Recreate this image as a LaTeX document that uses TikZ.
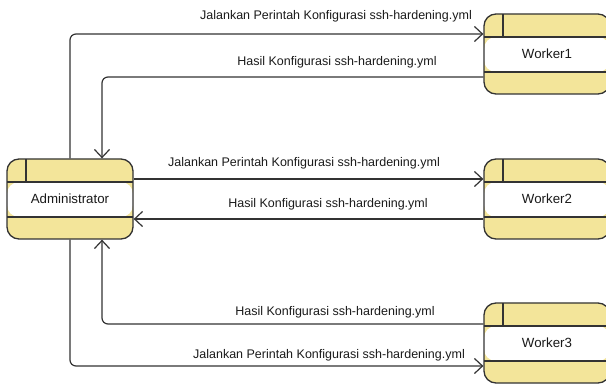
\documentclass[tikz,border=0pt]{standalone}
\usepackage{fontspec}
\setmainfont{Liberation Sans}
\usetikzlibrary{arrows.meta,calc}
\definecolor{boxfill}{HTML}{F3E59A}
\definecolor{strokec}{HTML}{333333}
\definecolor{txtc}{HTML}{1A1A1A}
\tikzset{
  procbox/.style={draw=strokec, line width=1.3pt, fill=boxfill, rounded corners=12pt,
    minimum width=126pt, minimum height=80pt, inner sep=0pt, text=txtc,
    font=\fontsize{13.3}{15}\selectfont,
    path picture={
      \fill[white] ([yshift=-23pt]path picture bounding box.north west) rectangle ([yshift=22pt]path picture bounding box.south east);
      \draw[strokec, line width=1.3pt] ([yshift=-23pt]path picture bounding box.north west) -- ([yshift=-23pt]path picture bounding box.north east);
      \draw[strokec, line width=1.3pt] ([yshift=22pt]path picture bounding box.south west) -- ([yshift=22pt]path picture bounding box.south east);
      \draw[strokec, line width=1.3pt] ([xshift=19pt]path picture bounding box.north west) -- ([xshift=19pt,yshift=-23pt]path picture bounding box.north west);
    }},
  conn/.style={draw=strokec, line width=1.2pt, rounded corners=6pt,
    -{Straight Barb[length=8pt,width=15pt,line width=1.2pt]}},
  lbl/.style={anchor=base, text=txtc, font=\fontsize{12.5}{14}\selectfont, inner sep=0pt}
}
\begin{document}
\begin{tikzpicture}[x=1pt,y=-1pt]
\useasboundingbox (0,0) rectangle (606,385);
\clip (0,0) rectangle (606,385);
\node[procbox] (admin) at (70,199) {Administrator};
\node[procbox] (w1) at (547,54) {Worker1};
\node[procbox] (w2) at (547,199) {Worker2};
\node[procbox] (w3) at (547,343) {Worker3};
% coordinates for bends
\coordinate (a1) at (70,34);
\coordinate (a2) at (102,77);
\coordinate (a5) at (102,324);
\coordinate (a6) at (70,366);
% top pair
\draw[conn] (admin.north) -- (a1) -- (w1.west |- a1);
\draw[conn] (w1.west |- a2) -- (a2) -- (a2 |- admin.north);
% middle pair
\draw[conn] (admin.east |- 0,179) -- (w2.west |- 0,179);
\draw[conn] (w2.west |- 0,219) -- (admin.east |- 0,219);
% bottom pair
\draw[conn] (w3.west |- a5) -- (a5) -- (a5 |- admin.south);
\draw[conn] (admin.south) -- (a6) -- (w3.west |- a6);
% labels
\node[lbl] (l1) at (336,20) {Jalankan Perintah Konfigurasi ssh-hardening.yml};
\node[lbl] (l2) at (337,66) {Hasil Konfigurasi ssh-hardening.yml};
\node[lbl] (l3) at (304,167) {Jalankan Perintah Konfigurasi ssh-hardening.yml};
\node[lbl] (l4) at (328,208) {Hasil Konfigurasi ssh-hardening.yml};
\node[lbl] (l5) at (335,316) {Hasil Konfigurasi ssh-hardening.yml};
\node[lbl] (l6) at (329,358) {Jalankan Perintah Konfigurasi ssh-hardening.yml};
\end{tikzpicture}
\end{document}
